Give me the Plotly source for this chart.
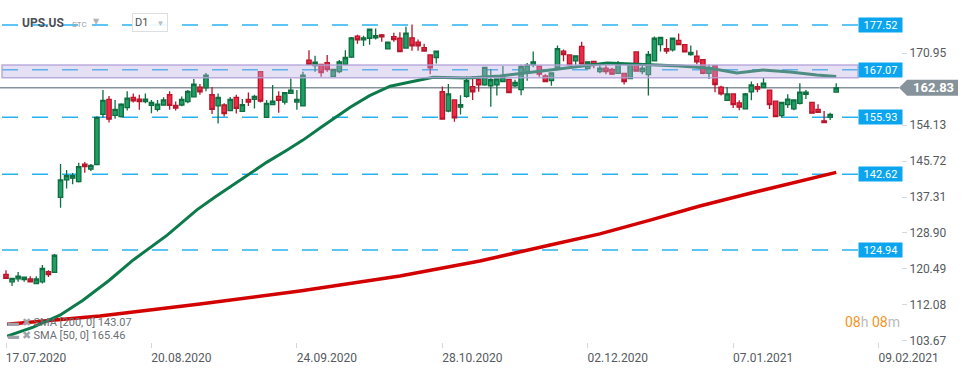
import plotly.graph_objects as go

# ---------------- data ----------------
candle_idx = list(range(1, 139))
opens = [119.2,117.5,118.2,118.0,118.15,117.1,117.5,119.85,119.7,137.2,
         141.3,141.7,140.9,145.0,143.8,144.9,156.6,160.1,156.4,156.1,
         158.2,160.6,160.2,159.6,158.75,157.8,158.8,161.2,158.7,158.8,
         159.6,160.7,163.0,162.8,161.2,158.6,158.8,157.5,160.6,157.3,
         160.1,160.1,166.6,155.9,158.9,160.8,159.5,161.5,159.5,158.6,
         169.3,168.0,168.3,168.7,165.5,166.6,168.3,170.0,174.9,174.0,
         174.4,174.5,175.2,171.9,174.8,174.4,172.1,174.5,173.5,172.2,
         170.5,169.9,161.9,157.4,160.0,158.3,160.8,163.1,164.7,163.5,
         163.3,163.5,164.3,164.8,163.3,162.4,166.6,168.2,167.9,165.6,
         164.5,167.5,171.4,170.5,169.1,172.5,167.3,169.0,166.6,167.4,
         167.1,166.2,166.2,165.0,171.2,166.6,165.9,169.1,172.9,172.0,
         171.7,173.9,172.9,170.6,170.2,169.4,166.2,168.0,163.0,159.9,
         161.4,159.3,157.9,161.9,163.1,162.9,162.3,159.7,156.3,158.9,
         157.9,159.2,161.3,159.4,157.8,155.1,155.9,161.8]
highs = [120.2,118.3,119.8,118.6,118.8,118.8,121.4,120.2,124.0,145.0,
         143.6,142.9,145.3,145.5,145.0,156.2,162.3,160.9,160.0,159.2,
         162.0,161.5,161.2,161.5,160.0,160.0,160.6,162.0,159.6,160.8,
         162.3,164.9,163.7,166.3,163.0,161.5,159.2,160.7,161.2,160.2,
         161.7,161.2,166.6,160.0,163.5,162.0,161.7,165.0,162.3,166.6,
         171.6,170.3,168.3,170.5,167.1,169.3,171.6,174.7,175.2,175.0,
         176.7,176.7,175.4,173.6,175.7,175.8,177.1,177.6,174.1,173.1,
         170.5,171.4,163.1,163.7,160.0,161.1,165.5,165.6,165.5,167.6,
         167.2,164.9,167.9,164.8,164.7,168.2,168.6,171.3,167.9,166.0,
         166.3,172.7,171.8,170.5,170.3,173.6,168.9,169.0,168.2,168.2,
         167.5,169.1,166.2,168.3,171.2,168.2,171.4,174.8,174.6,174.2,
         174.4,175.5,172.9,172.7,171.6,169.4,168.2,168.0,163.3,163.0,
         161.4,159.9,161.6,164.3,163.9,165.1,162.3,159.7,159.4,161.3,
         160.0,163.9,162.3,159.4,159.0,157.4,157.0,163.9]
lows = [118.3,116.5,117.5,117.5,117.5,117.1,117.1,118.6,119.7,134.8,
        139.3,140.3,140.7,143.0,143.4,144.9,155.9,154.7,155.6,155.9,
        157.5,159.4,157.7,159.2,156.9,157.3,158.8,157.7,157.5,158.5,
        159.2,160.6,161.2,162.0,156.7,154.5,156.1,157.5,156.8,157.3,
        158.6,158.0,159.4,155.9,158.8,157.0,158.9,161.5,157.7,158.6,
        168.3,166.6,165.4,166.6,165.4,166.2,168.1,169.8,173.1,172.6,
        172.9,174.1,173.6,171.9,173.6,171.2,172.1,171.5,171.5,171.4,
        166.0,168.5,155.5,157.1,154.9,156.6,160.5,160.0,161.9,163.3,
        158.4,161.0,164.3,161.6,163.0,161.1,164.5,167.6,165.4,164.3,
        163.3,167.5,169.0,168.1,168.1,168.2,167.3,167.4,166.2,166.0,
        165.8,166.2,163.6,165.0,166.6,166.0,161.0,169.1,171.3,170.8,
        171.3,172.9,171.2,170.3,168.3,166.0,164.9,161.8,161.0,159.9,
        158.1,157.6,157.9,159.9,161.8,162.9,157.9,156.1,155.8,158.1,
        157.6,158.9,160.2,156.9,157.1,154.7,155.3,161.8]
closes = [118.3,118.3,118.8,118.6,117.5,118.15,120.6,119.2,123.7,141.3,
          142.3,142.3,144.4,144.4,144.7,155.9,159.9,155.5,157.8,159.0,
          160.4,159.8,159.6,160.2,159.4,159.0,160.0,158.7,158.1,160.1,
          162.0,163.7,161.9,165.8,157.8,160.6,156.8,160.1,158.0,158.9,
          159.5,160.8,159.7,159.2,159.7,159.9,161.7,162.3,160.1,165.8,
          168.3,168.8,166.4,167.1,167.1,168.9,169.9,174.5,174.0,174.5,
          176.5,175.0,174.7,173.5,174.1,171.3,175.6,172.6,172.6,171.4,
          167.5,171.4,155.5,161.4,155.8,158.9,164.5,161.9,163.5,167.6,
          164.7,164.9,165.3,161.7,164.1,167.8,168.1,168.9,166.0,164.3,
          166.3,172.0,170.6,168.2,170.3,168.4,168.9,168.2,167.4,166.6,
          166.0,168.5,164.3,168.3,166.7,167.4,170.6,174.4,174.6,171.4,
          174.4,172.9,171.2,171.1,168.9,166.2,167.4,163.6,161.4,161.4,
          158.9,158.3,161.4,163.5,162.5,163.9,158.9,156.1,159.4,160.2,
          160.0,161.8,161.8,156.9,157.1,154.7,156.6,162.83]

sma50_idx = [1.2,5.5,9.9,13.7,18.0,22.0,27.6,32.5,35.5,40.8,44.0,47.4,50.0,53.0,
             57.8,61.0,64.4,67.7,71.5,77.1,82.5,90.8,94.6,100.2,107.3,112.2,
             117.2,121.6,125.9,130.4,134.8,138.0]
sma50_val = [104.8,106.9,109.7,113.2,117.8,122.6,128.4,134.3,137.3,142.4,145.4,
             148.3,150.6,153.6,158.3,161.0,163.2,164.2,165.3,165.1,165.6,167.0,
             167.7,168.6,168.2,167.9,167.4,166.3,167.0,166.5,165.8,165.46]
sma200_idx = [1.2,16.5,33.0,49.5,66.0,79.2,90.8,99.0,107.3,115.5,123.8,132.0,138.0]
sma200_val = [107.6,109.5,112.3,115.35,118.85,122.35,126.1,128.7,131.9,135.2,138.2,
              141.05,143.07]

levels = [177.52, 167.07, 155.93, 142.62, 124.94]
zone_low, zone_high = 165.2, 168.15
last_price = 162.83
sma200_last, sma50_last = 143.07, 165.46

xtick_idx = [1, 25, 49, 73, 97, 121, 145]
xtick_text = ["17.07.2020", "20.08.2020", "24.09.2020", "28.10.2020",
              "02.12.2020", "07.01.2021", "09.02.2021"]
ytick_vals = [103.67, 112.08, 120.49, 128.90, 137.31, 145.72, 154.13, 170.95]

# ---------------- geometry helpers (decorations only) ----------------
W, H = 970, 368
ML, MR, MT, MB = 0, 69, 8, 26
PW = W - ML - MR
PH = H - MT - MB
X0, X1 = 0.01, 0.01 + PW / 6.06
Y0, Y1 = 103.43, 181.47


def px2idx(px):
    return X0 + (px - ML) / PW * (X1 - X0)


def px2paperx(px):
    return (px - ML) / PW


def px2papery(py):
    return (H - MB - py) / PH


FONT = "Roboto, Arial, sans-serif"
BLUE = "#0aa5ee"
GREY = "#87939a"

fig = go.Figure()

fig.add_trace(go.Candlestick(
    x=candle_idx, open=opens, high=highs, low=lows, close=closes,
    increasing=dict(fillcolor="#1f9f63", line=dict(color="#0d6f40", width=1.3)),
    decreasing=dict(fillcolor="#f02a45", line=dict(color="#b9152c", width=1.3)),
    whiskerwidth=0, showlegend=False, hoverinfo="skip",
))
fig.add_trace(go.Scatter(x=sma200_idx, y=sma200_val, mode="lines",
                         line=dict(color="#d30000", width=3.5),
                         showlegend=False, hoverinfo="skip"))
fig.add_trace(go.Scatter(x=sma50_idx, y=sma50_val, mode="lines",
                         line=dict(color="#0c7a4a", width=3),
                         showlegend=False, hoverinfo="skip"))

shapes = []
for lv in levels:
    shapes.append(dict(type="line", xref="x", yref="y",
                       x0=px2idx(2), x1=px2idx(858), y0=lv, y1=lv,
                       line=dict(color="rgba(0,165,240,0.85)", width=1.5,
                                 dash="16px,14px"), layer="below"))
shapes.append(dict(type="line", xref="x", yref="y", x0=X0, x1=px2idx(899),
                   y0=last_price, y1=last_price,
                   line=dict(color=GREY, width=1.5), layer="below"))
shapes.append(dict(type="rect", xref="x", yref="y", x0=px2idx(2), x1=px2idx(858),
                   y0=zone_low, y1=zone_high,
                   fillcolor="rgba(188,174,226,0.38)",
                   line=dict(color="rgba(175,160,215,0.85)", width=1.5),
                   layer="above"))
# price box with arrow
h = 8 * (Y1 - Y0) / PH
xa, xb, xc = px2paperx(899), px2paperx(907), px2paperx(958)
shapes.append(dict(type="path", xref="paper", yref="y",
                   path=f"M {xa},{last_price} L {xb},{last_price + h} L {xc},{last_price + h} "
                        f"L {xc},{last_price - h} L {xb},{last_price - h} Z",
                   fillcolor=GREY, line=dict(width=0), layer="above"))

annotations = []
for lv in levels:
    annotations.append(dict(xref="paper", yref="y", x=px2paperx(880.5), y=lv,
                            text=f"{lv:.2f}", showarrow=False,
                            font=dict(family=FONT, size=11, color="white"),
                            bgcolor=BLUE, width=41, height=12, borderpad=1,
                            xanchor="center", yanchor="middle"))
annotations.append(dict(xref="paper", yref="y", x=px2paperx(933), y=last_price,
                        text=f"<b>{last_price:.2f}</b>", showarrow=False,
                        font=dict(family=FONT, size=13, color="white"),
                        xanchor="center", yanchor="middle"))
# header
annotations += [
    dict(xref="paper", yref="paper", x=px2paperx(20), y=px2papery(23),
         text="<b>UPS.US</b>", showarrow=False, xanchor="left", yanchor="middle",
         font=dict(family=FONT, size=12, color="#4a4f55")),
    dict(xref="paper", yref="paper", x=px2paperx(70), y=px2papery(24),
         text="STC", showarrow=False, xanchor="left", yanchor="middle",
         font=dict(family=FONT, size=8, color="#9aa0a6")),
    dict(xref="paper", yref="paper", x=px2paperx(96), y=px2papery(21),
         text="▼", showarrow=False, xanchor="center", yanchor="middle",
         font=dict(family="DejaVu Sans", size=8, color="#b0b4b8")),
    dict(xref="paper", yref="paper", x=px2paperx(150), y=px2papery(23),
         text="D1   <span style='color:#b8bcc0;font-size:8px'>▼</span>",
         showarrow=False, xanchor="center", yanchor="middle",
         font=dict(family=FONT, size=11, color="#4a4f55"),
         bgcolor="rgba(255,255,255,0.9)", bordercolor="#dcdfe2", borderwidth=1,
         borderpad=2),
]
# legend of indicators
annotations += [
    dict(xref="paper", yref="paper", x=px2paperx(6), y=px2papery(322),
         text="<span style='color:#a0a4a8'>▬ ✖</span> SMA [200, 0] " + f"{sma200_last:.2f}",
         showarrow=False, xanchor="left", yanchor="middle",
         font=dict(family=FONT, size=11, color="#6b7075")),
    dict(xref="paper", yref="paper", x=px2paperx(6), y=px2papery(335),
         text="<span style='color:#a0a4a8'>▬ ✖</span> SMA [50, 0] " + f"{sma50_last:.2f}",
         showarrow=False, xanchor="left", yanchor="middle",
         font=dict(family=FONT, size=11, color="#6b7075")),
    dict(xref="paper", yref="paper", x=px2paperx(902), y=px2papery(322),
         text="<span style='color:#f7931e'>08</span><span style='color:#b8bcc0'>h</span> "
              "<span style='color:#f7931e'>08</span><span style='color:#b8bcc0'>m</span>",
         showarrow=False, xanchor="right", yanchor="middle",
         font=dict(family=FONT, size=14)),
]

fig.update_layout(
    width=W, height=H,
    margin=dict(l=ML, r=MR, t=MT, b=MB, pad=0),
    paper_bgcolor="white", plot_bgcolor="white",
    boxgap=0.28, boxgroupgap=0,
    shapes=shapes, annotations=annotations,
    font=dict(family=FONT, size=12, color="#555a60"),
    xaxis=dict(range=[X0, X1], showgrid=False, zeroline=False, showline=False,
               tickmode="array", tickvals=xtick_idx, ticktext=xtick_text,
               ticks="outside", ticklen=5, tickcolor="#d5d8db",
               ticklabelshift=30, rangeslider=dict(visible=False),
               tickfont=dict(family=FONT, size=12, color="#555a60")),
    yaxis=dict(range=[Y0, Y1], side="right", showgrid=False, zeroline=False,
               showline=False, tickmode="array", tickvals=ytick_vals,
               ticktext=[f"{v:.2f}" for v in ytick_vals],
               ticks="outside", ticklen=5, tickcolor="#d5d8db",
               tickfont=dict(family=FONT, size=12, color="#555a60")),
    hovermode=False,
)

fig.write_html("out.html", config={"displayModeBar": False},
               post_script="document.body.style.margin='0';document.body.style.overflow='hidden';")
